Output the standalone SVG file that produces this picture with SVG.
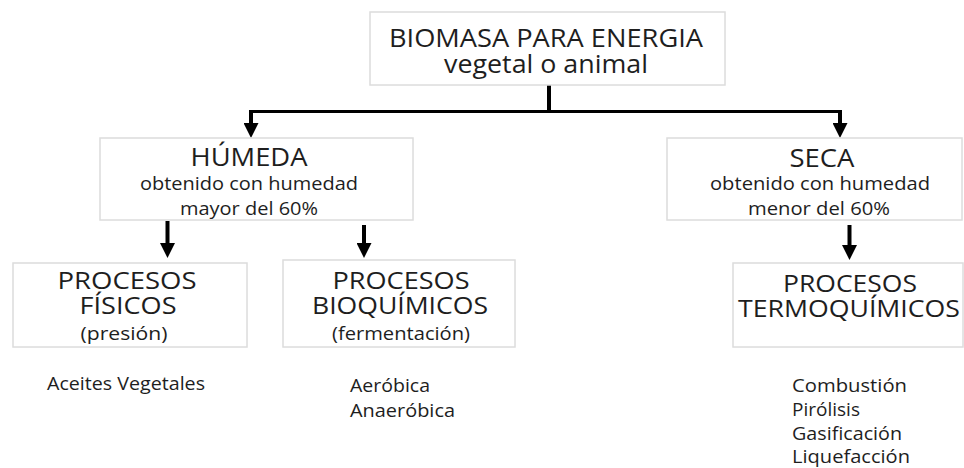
<svg xmlns="http://www.w3.org/2000/svg" width="964" height="468" viewBox="0 0 964 468">
<style>
  .box { fill: #ffffff; stroke: #dcdcdc; stroke-width: 1.5; }
  text { font-family: "Open Sans", "Liberation Sans", sans-serif; fill: #1e1e1e; text-anchor: middle; }
  .big { font-size: 26px; }
  .mid { font-size: 24px; }
  .small { font-size: 18px; }
  .list { font-size: 18px; text-anchor: start; }
  .line { stroke: #000; fill: none; stroke-width: 4; }
  .hline { stroke: #000; fill: none; stroke-width: 3; }
</style>
<defs>
  <marker id="arrow" viewBox="0 -7.5 15 15" refX="0" refY="0" markerWidth="15" markerHeight="15" markerUnits="userSpaceOnUse" orient="auto">
    <path d="M0,-7.5 L15,0 L0,7.5 z" fill="#000"/>
  </marker>
</defs>
<rect width="964" height="468" fill="#ffffff"/>

<g id="connectors">
  <path class="line" d="M549 85 V112"/>
  <path class="hline" d="M249 111.5 H842"/>
  <path class="line" d="M251 111 V123" marker-end="url(#arrow)"/>
  <path class="line" d="M840 111 V123" marker-end="url(#arrow)"/>
  <path class="line" d="M167.5 221 V243" marker-end="url(#arrow)"/>
  <path class="line" d="M364 225 V243" marker-end="url(#arrow)"/>
  <path class="line" d="M849.5 225 V245" marker-end="url(#arrow)"/>
</g>

<g id="biomasa">
  <rect class="box" x="370" y="12" width="355" height="73"/>
  <text class="big" x="546" y="47" textLength="314" lengthAdjust="spacingAndGlyphs">BIOMASA PARA ENERGIA</text>
  <text class="big" x="546" y="73" textLength="204" lengthAdjust="spacingAndGlyphs">vegetal o animal</text>
</g>

<g id="humeda">
  <rect class="box" x="100" y="138" width="313" height="82"/>
  <text class="big" x="249" y="166" textLength="117" lengthAdjust="spacingAndGlyphs">HÚMEDA</text>
  <text class="small" x="249" y="190" textLength="218" lengthAdjust="spacingAndGlyphs">obtenido con humedad</text>
  <text class="small" x="249" y="215" textLength="138" lengthAdjust="spacingAndGlyphs">mayor del 60%</text>
</g>

<g id="seca">
  <rect class="box" x="667" y="138" width="295" height="82"/>
  <text class="big" x="822" y="167" textLength="65" lengthAdjust="spacingAndGlyphs">SECA</text>
  <text class="small" x="820" y="190" textLength="220" lengthAdjust="spacingAndGlyphs">obtenido con humedad</text>
  <text class="small" x="819" y="215" textLength="142" lengthAdjust="spacingAndGlyphs">menor del 60%</text>
</g>

<g id="fisicos">
  <rect class="box" x="13" y="263" width="234" height="84"/>
  <text class="mid" x="127" y="289" textLength="139" lengthAdjust="spacingAndGlyphs">PROCESOS</text>
  <text class="mid" x="128" y="314" textLength="97" lengthAdjust="spacingAndGlyphs">FÍSICOS</text>
  <text class="small" x="124" y="340" textLength="87" lengthAdjust="spacingAndGlyphs">(presión)</text>
</g>

<g id="bioquimicos">
  <rect class="box" x="283" y="260" width="232" height="87"/>
  <text class="mid" x="401" y="289" textLength="137" lengthAdjust="spacingAndGlyphs">PROCESOS</text>
  <text class="mid" x="400" y="314" textLength="176" lengthAdjust="spacingAndGlyphs">BIOQUÍMICOS</text>
  <text class="small" x="401" y="340" textLength="138" lengthAdjust="spacingAndGlyphs">(fermentación)</text>
</g>

<g id="termoquimicos">
  <rect class="box" x="733" y="263" width="230" height="84"/>
  <text class="mid" x="850" y="292" textLength="134" lengthAdjust="spacingAndGlyphs">PROCESOS</text>
  <text class="mid" x="849" y="317" textLength="222" lengthAdjust="spacingAndGlyphs">TERMOQUÍMICOS</text>
</g>

<g id="lista-fisicos">
  <text class="list" x="47" y="390" textLength="158" lengthAdjust="spacingAndGlyphs">Aceites Vegetales</text>
</g>

<g id="lista-bioquimicos">
  <text class="list" x="350" y="392" textLength="80" lengthAdjust="spacingAndGlyphs">Aeróbica</text>
  <text class="list" x="350" y="417" textLength="105" lengthAdjust="spacingAndGlyphs">Anaeróbica</text>
</g>

<g id="lista-termoquimicos">
  <text class="list" x="792" y="392" textLength="115" lengthAdjust="spacingAndGlyphs">Combustión</text>
  <text class="list" x="792" y="416" textLength="68" lengthAdjust="spacingAndGlyphs">Pirólisis</text>
  <text class="list" x="792" y="440" textLength="110" lengthAdjust="spacingAndGlyphs">Gasificación</text>
  <text class="list" x="792" y="463" textLength="118" lengthAdjust="spacingAndGlyphs">Liquefacción</text>
</g>
</svg>
